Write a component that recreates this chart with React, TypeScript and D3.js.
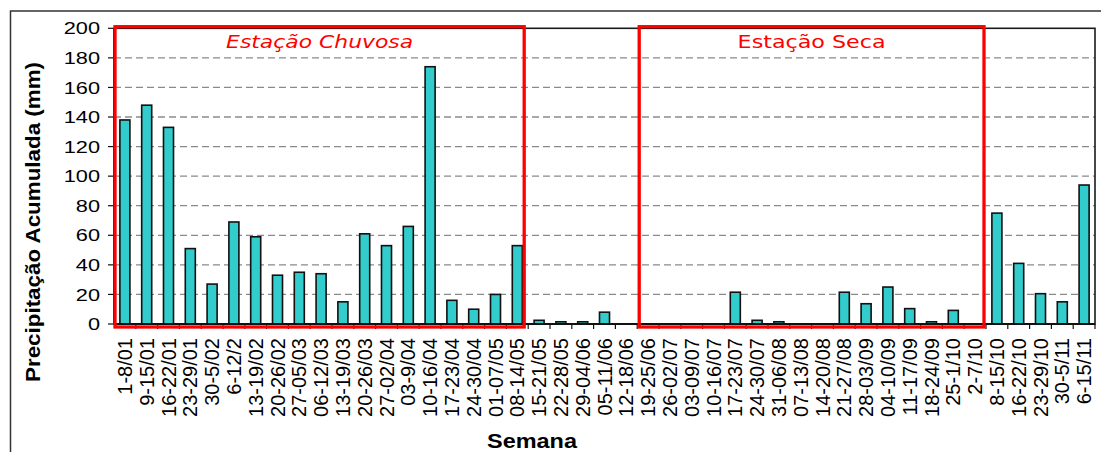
import React from "react";
import * as d3 from "d3";

const weeks: string[] = [
  "1-8/01", "9-15/01", "16-22/01", "23-29/01", "30-5/02", "6-12/2", "13-19/02", "20-26/02",
  "27-05/03", "06-12/03", "13-19/03", "20-26/03", "27-02/04", "03-9/04", "10-16/04", "17-23/04",
  "24-30/04", "01-07/05", "08-14/05", "15-21/05", "22-28/05", "29-04/06", "05-11/06", "12-18/06",
  "19-25/06", "26-02/07", "03-09/07", "10-16/07", "17-23/07", "24-30/07", "31-06/08", "07-13/08",
  "14-20/08", "21-27/08", "28-03/09", "04-10/09", "11-17/09", "18-24/09", "25-1/10", "2-7/10",
  "8-15/10", "16-22/10", "23-29/10", "30-5/11", "6-15/11",
];

const precipitation: number[] = [
  138, 148, 133, 51, 27, 69, 59, 33, 35, 34, 15, 61, 53, 66, 174, 16,
  10, 20, 53, 2.5, 1.5, 1.5, 8, 0,
  0, 0, 0, 0, 21.5, 2.5, 1.5, 0, 0, 21.5, 13.7, 25, 10.4, 1.5, 9.2, 0,
  75, 41, 20.5, 15, 94,
];

const yTicks: number[] = [0, 20, 40, 60, 80, 100, 120, 140, 160, 180, 200];

const seasons = [
  { label: "Estação Chuvosa", first: "1-8/01", last: "08-14/05", italic: true },
  { label: "Estação Seca", first: "19-25/06", last: "2-7/10", italic: false },
];

const W = 1101;
const H = 452;
const left = 114;
const right = 1095;
const top = 28.3;
const bottom = 324;

export default function App() {
  const x = d3.scaleBand<string>().domain(weeks).range([left, right]).paddingInner(0.54).paddingOuter(0.27);
  const y = d3.scaleLinear().domain([0, 200]).range([bottom, top]);
  const step = x.step();
  const slotStart = (w: string) => (x(w) as number) - (step - x.bandwidth()) / 2;
  const arial = "'Liberation Sans', Arial, sans-serif";
  const verd = "'DejaVu Sans', Verdana, sans-serif";

  const boxes = seasons.map((s, i) => {
    const x0 = slotStart(s.first) + (i === 0 ? 1 : 2);
    const x1 = slotStart(s.last) + step - (i === 0 ? 4 : 2);
    return { ...s, x0, x1 };
  });

  return (
    <svg width={W} height={H} style={{ position: "absolute", left: 0, top: 0, background: "#fff" }}>
      {/* outer frame */}
      <rect x={10.5} y={11} width={1200} height={600} fill="none" stroke="#333" strokeWidth={1.5} />
      {/* gridlines */}
      {yTicks.filter((t) => t > 0 && t < 200).map((t) => (
        <line key={t} x1={left} x2={right} y1={y(t)} y2={y(t)} stroke="#8a8a8a" strokeWidth={1.3} strokeDasharray="7,4" />
      ))}
      {/* plot border */}
      <rect x={left} y={top} width={right - left} height={bottom - top} fill="none" stroke="#1a1a1a" strokeWidth={1.6} />
      {/* bars */}
      {weeks.map((w, i) =>
        precipitation[i] > 0 ? (
          <rect
            key={w}
            x={x(w)}
            y={y(precipitation[i])}
            width={x.bandwidth()}
            height={bottom - y(precipitation[i])}
            fill="#33CCCC"
            stroke="#111"
            strokeWidth={1.6}
          />
        ) : null
      )}
      {/* x axis */}
      <line x1={left} x2={right} y1={bottom} y2={bottom} stroke="#111" strokeWidth={1.8} />
      {weeks.map((w) => (
        <line key={"t" + w} x1={slotStart(w) + step} x2={slotStart(w) + step} y1={bottom} y2={bottom + 5} stroke="#111" strokeWidth={1.2} />
      ))}
      {weeks.map((w) => {
        const cx = (x(w) as number) + x.bandwidth() / 2;
        return (
          <text
            key={"l" + w}
            transform={`translate(${cx},338) rotate(-90)`}
            textAnchor="end"
            dy="0.35em"
            fontFamily={arial}
            fontSize={20}
            fill="#000"
          >
            {w}
          </text>
        );
      })}
      {/* y axis */}
      <line x1={left} x2={left} y1={top} y2={bottom} stroke="#111" strokeWidth={1.8} />
      {yTicks.map((t) => (
        <g key={"y" + t}>
          <line x1={left - 6} x2={left} y1={y(t)} y2={y(t)} stroke="#111" strokeWidth={1.2} />
          <g transform={`translate(100,${y(t)}) scale(1.28,1)`}>
            <text textAnchor="end" dy="0.36em" fontFamily={arial} fontSize={17} fill="#000">
              {t}
            </text>
          </g>
        </g>
      ))}
      {/* season boxes */}
      {boxes.map((b) => (
        <g key={b.label}>
          <rect x={b.x0} y={top - 1.6} width={b.x1 - b.x0} height={bottom + 3 - (top - 1.6)} fill="none" stroke="#ff0000" strokeWidth={3.3} />
          <text
            x={(b.x0 + b.x1) / 2}
            y={47.8}
            textAnchor="middle"
            fontFamily={verd}
            fontStyle={b.italic ? "italic" : "normal"}
            fontSize={17.4}
            fill="#ff0000"
            textLength={b.italic ? 187 : 148}
            lengthAdjust="spacingAndGlyphs"
          >
            {b.label}
          </text>
        </g>
      ))}
      {/* axis titles */}
      <text
        transform={`translate(40,222) rotate(-90)`}
        textAnchor="middle"
        fontFamily={arial}
        fontWeight="bold"
        fontSize={21}
        textLength={320}
        lengthAdjust="spacingAndGlyphs"
        fill="#000"
      >
        Precipitação Acumulada (mm)
      </text>
      <text
        x={532}
        y={448}
        textAnchor="middle"
        fontFamily={arial}
        fontWeight="bold"
        fontSize={20}
        textLength={90}
        lengthAdjust="spacingAndGlyphs"
        fill="#000"
      >
        Semana
      </text>
    </svg>
  );
}
